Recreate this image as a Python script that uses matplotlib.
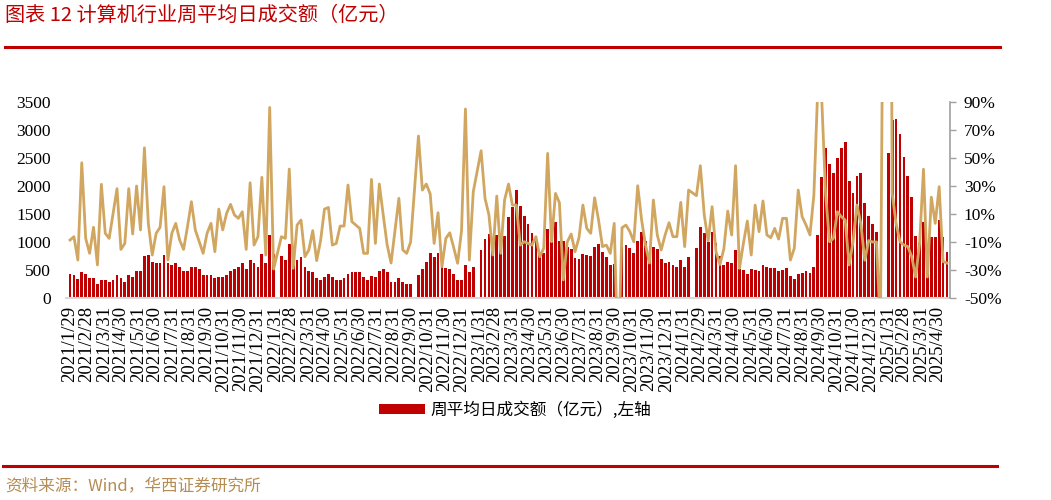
import numpy as np
import pandas as pd
import matplotlib
matplotlib.use("Agg")
import matplotlib.pyplot as plt
from matplotlib.patches import Patch
from matplotlib.lines import Line2D

nan = np.nan

# weekly observations (Friday of each week)
week_dates = pd.date_range("2021-01-29", "2025-05-16", freq="W-FRI")

# 周平均日成交额（亿元），左轴 -- nan = no trading that week
turnover = [
    428, 405, 333, 458, 428, 351, 351, 244, 321, 321,
    292, 315, 405, 351, 292, 405, 381, 482, 482, 744,
    774, 649, 619, 619, 774, 619, 589, 619, 559, 482,
    482, 559, 559, 512, 405, 405, 405, 351, 375, 375,
    405, 482, 512, 559, 619, 512, 673, 619, 559, 780,
    619, 1125, 780, nan, 750, 673, 964, 673, 673, 726,
    559, 482, 458, 351, 321, 381, 434, 381, 321, 321,
    351, 434, 458, 458, 458, 381, 321, 399, 381, 482,
    512, 458, 292, 292, 351, 292, 244, 244, nan, 411,
    512, 643, 809, 726, 809, 570, 530, 512, 434, 321,
    321, 595, 458, 559, nan, 857, 1048, 1143, 930, 1119,
    950, 1100, 1452, 1630, 1930, 1640, 1470, 1320, 1155, 1060,
    790, 810, 1238, 1000, 1365, 1010, 1020, 905, 870, 720,
    705, 790, 770, 756, 917, 964, 827, 726, 589, 607,
    nan, 917, 940, 887, 809, 1018, 1178, 1018, 790, 917,
    875, 690, 619, 643, 595, 560, 673, 560, 726, nan,
    887, 1262, 1155, 1006, 1178, 976, 756, 589, 643, 619,
    857, 524, 500, 434, 524, 500, 482, 589, 560, 536,
    536, 482, 500, 536, 399, 345, 434, 452, 482, 452,
    560, 1125, 2167, 2680, 2390, 2226, 2494, 2680, 2785, 2090,
    1881, 2170, 2226, 1690, 1460, 1315, 1184, 321, nan, 2583,
    3178, 3190, 2925, 2524, 2178, 1797, 1107, 988, 1363, 880,
    1095, 1095, 1393, 1095, 827,
]

# 周环比（%），右轴
wow_change = [
    -8.6, -6.2, -22.9, 46.6, -7.4, -18.1, 0.5, -26.4, 31.2, -3.8,
    -7.4, 10.5, 28.1, -15.3, -11.0, 28.1, -4.3, 30.0, -1.4, 57.3,
    3.3, -19.3, -3.8, 0.5, 29.5, -22.9, -3.8, 3.3, -8.6, -15.3,
    0.9, 18.8, -1.4, -9.8, -18.1, -3.8, 3.3, -16.9, 13.5, -1.4,
    10.5, 16.9, 9.3, 6.9, 11.6, -15.3, 32.3, -12.2, -6.2, 36.2,
    -19.3, 86.1, -29.3, nan, -6.2, -7.4, 42.1, -28.8, 2.1, 5.7,
    -20.5, -15.7, -1.9, -23.3, -9.0, 13.5, 14.7, -12.2, -11.0, 1.4,
    1.4, 30.7, 4.5, 2.1, -0.3, -18.1, -18.1, 34.7, -11.0, 31.4,
    9.3, -12.0, -25.0, -2.0, 21.2, -15.7, -18.1, -10.0, nan, 65.7,
    27.1, 31.4, 24.3, -11.0, 10.9, -27.6, -7.4, -3.4, -14.0, -25.2,
    -2.0, 85.0, -22.9, 25.9, nan, 55.2, 21.2, 9.3, -19.3, 22.8,
    -18.1, 20.0, 31.4, 16.4, 16.4, -12.2, -9.8, -11.0, -12.2, -6.2,
    -20.5, -14.5, 53.3, -9.8, 24.7, 18.1, -37.1, -10.0, -4.3, -16.9,
    -6.9, 16.4, -0.3, -3.8, 21.6, 5.7, -13.3, -12.2, -18.1, 3.3,
    -100.0, 0.2, 2.1, -2.6, -9.8, 30.2, 5.7, -12.2, -25.0, 20.0,
    -5.0, -15.7, -5.0, 3.8, -6.2, -6.2, 18.3, -13.3, 27.1, nan,
    23.1, 44.5, 9.3, -9.1, 15.2, -16.9, -26.0, -15.0, 12.1, -5.0,
    44.5, -28.8, -11.0, 5.0, -19.3, 16.4, -2.6, 19.3, -5.0, -6.9,
    -0.3, -7.9, 6.9, 6.9, -22.9, -14.5, 27.1, 8.1, 2.1, -5.0,
    23.5, 100.0, 93.0, 24.0, -9.8, -7.4, 11.6, 8.1, 5.7, -26.4,
    -10.0, 16.4, 3.0, -23.0, -9.0, -10.0, -10.0, -73.0, nan, 700.0,
    24.7, 3.3, -9.8, -12.2, -13.3, -20.5, -35.0, -11.0, 42.0, -35.0,
    22.0, 3.3, 29.5, -24.0, -25.0,
]

# x tick labels: first week, then every month end
tick_dates = [pd.Timestamp("2021-01-29")] + list(
    pd.date_range("2021-02-01", "2025-04-01", freq="MS") + pd.offsets.MonthEnd(1))
tick_labels = [f"{d.year}/{d.month}/{d.day}" for d in tick_dates]

left_ticks = [0, 500, 1000, 1500, 2000, 2500, 3000, 3500]
right_ticks = [-50, -30, -10, 10, 30, 50, 70, 90]

RED = "#C00000"
GOLD = "#D0A660"
cjk = ["Noto Sans CJK SC", "DejaVu Sans"]
plt.rcParams["font.family"] = ["Liberation Serif", "Noto Sans CJK SC"]

turnover = np.array(turnover, dtype=float)
wow_change = np.array(wow_change, dtype=float)
bar_ok = np.isfinite(turnover)
line_ok = np.isfinite(wow_change)

W, H = 1051, 500
fig = plt.figure(figsize=(W / 100, H / 100), dpi=100)
ax = fig.add_axes([66 / W, 1 - 298 / H, 884 / W, 196 / H])

ax.bar(week_dates[bar_ok], turnover[bar_ok], width=5.0, color=RED, zorder=2)
ax.set_ylim(0, 3500)
ax.set_xlim(week_dates[0] - pd.Timedelta(days=7.2), week_dates[-1] + pd.Timedelta(days=5.4))
ax.set_yticks(left_ticks)
ax.set_yticklabels([str(v) for v in left_ticks])
ax.tick_params(axis="y", length=0, labelsize=12.5, pad=11)
ax.set_xticks(tick_dates)
ax.set_xticklabels(tick_labels, rotation=90, fontsize=13.5)
ax.tick_params(axis="x", length=0, pad=6)
for s in ["left", "right", "top"]:
    ax.spines[s].set_visible(False)
ax.spines["bottom"].set_color("#D9D9D9")
ax.spines["bottom"].set_linewidth(1.5)

ax2 = ax.twinx()
ax2.plot(week_dates[line_ok], wow_change[line_ok], color=GOLD, lw=2.0)
ax2.set_ylim(-50, 90)
ax2.set_yticks(right_ticks)
ax2.set_yticklabels([f"{v}%" for v in right_ticks])
ax2.tick_params(axis="y", direction="out", length=4, width=1, color="#A0A0A0",
                labelsize=12.5, pad=6)
for s in ["left", "bottom", "top"]:
    ax2.spines[s].set_visible(False)
ax2.spines["right"].set_color("#A0A0A0")
ax2.spines["right"].set_linewidth(1.2)

fig.legend(handles=[Patch(facecolor=RED)], labels=["周平均日成交额（亿元）,左轴"],
           loc="center", bbox_to_anchor=(515 / W, 1 - 410 / H), frameon=False,
           prop={"family": cjk, "size": 12}, handlelength=2.8, handleheight=0.6,
           handletextpad=0.3)

# header and footer
fig.text(5 / W, 1 - 15 / H, "图表 12 计算机行业周平均日成交额（亿元）", color=RED,
         fontsize=14.5, family=cjk, ha="left", va="center")
fig.add_artist(Line2D([5 / W, 1000 / W], [1 - 47 / H] * 2, color=RED, lw=2.2,
                      transform=fig.transFigure))
fig.add_artist(Line2D([3 / W, 997 / W], [1 - 466 / H] * 2, color=RED, lw=2.2,
                      transform=fig.transFigure))
fig.text(5 / W, 1 - 486 / H, "资料来源：Wind，华西证券研究所", color="#B58C52",
         fontsize=12, family=cjk, ha="left", va="center")

fig.savefig("out.png", dpi=100)
